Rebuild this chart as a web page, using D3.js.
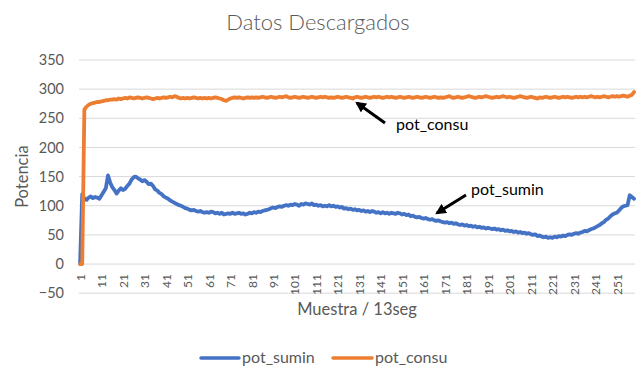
<!DOCTYPE html>
<html>
<head>
<meta charset="utf-8">
<script src="https://cdn.jsdelivr.net/npm/d3@7"></script>
<style>
  html, body { margin: 0; padding: 0; background: #fff; }
  svg { display: block; font-family: Lato, "Open Sans", sans-serif; }
</style>
</head>
<body>
<svg id="chart" width="637" height="368"></svg>
<script>
// Power readings, one sample every 13 s
const potSumin = [
  0, 120, 112, 110, 114, 116, 113, 115, 114, 112,
  118, 124, 130, 152, 140, 132, 127, 121, 126, 130,
  127, 129, 134, 138, 145, 149, 150, 147, 145, 142,
  144, 141, 137, 138, 134, 128, 126, 122, 120, 116,
  114, 112, 109, 107, 105, 103, 101, 100, 98, 96,
  95, 93, 92, 93, 91, 90, 91, 89, 88, 89,
  88, 90, 89, 87, 88, 86, 88, 85, 86, 87,
  86, 88, 86, 87, 88, 86, 87, 85, 86, 88,
  87, 89, 88, 90, 89, 91, 92, 93, 94, 96,
  97, 96, 98, 99, 98, 100, 101, 100, 102, 101,
  103, 102, 100, 103, 102, 104, 103, 102, 104, 101,
  102, 100, 101, 99, 100, 99, 101, 99, 100, 98,
  99, 97, 98, 95, 96, 94, 95, 93, 94, 92,
  93, 91, 92, 90, 91, 89, 91, 90, 88, 89,
  87, 89, 87, 88, 86, 88, 87, 86, 88, 87,
  85, 86, 84, 85, 82, 83, 81, 80, 81, 79,
  78, 79, 77, 76, 77, 75, 74, 75, 73, 72,
  71, 72, 70, 71, 69, 70, 68, 67, 68, 66,
  67, 65, 66, 64, 65, 63, 64, 62, 63, 61,
  62, 61, 60, 61, 59, 60, 58, 59, 57, 58,
  56, 57, 55, 56, 54, 55, 53, 54, 52, 53,
  51, 50, 51, 48, 49, 47, 46, 47, 45, 46,
  45, 47, 46, 48, 47, 49, 48, 50, 51, 50,
  52, 53, 52, 54, 55, 57, 56, 58, 60, 61,
  63, 65, 67, 70, 72, 76, 78, 82, 85, 87,
  88, 92, 96, 99, 100, 101, 118, 115, 112
];

const potConsu = [
  0, 0, 265, 270, 273, 275, 276, 277, 278, 278,
  279, 280, 281, 281, 282, 282, 283, 282, 284, 283,
  284, 285, 284, 286, 285, 284, 285, 286, 285, 284,
  285, 286, 285, 284, 283, 284, 285, 284, 285, 286,
  285, 286, 287, 286, 288, 287, 285, 284, 285, 284,
  285, 284, 285, 286, 285, 284, 285, 284, 285, 284,
  285, 284, 285, 286, 285, 284, 283, 281, 280, 282,
  284, 285, 286, 285, 286, 285, 284, 285, 286, 285,
  286, 285, 286, 285, 286, 287, 286, 285, 286, 287,
  286, 285, 286, 287, 286, 287, 288, 286, 285, 286,
  287, 286, 285, 286, 287, 286, 285, 286, 287, 286,
  285, 286, 287, 286, 287, 286, 285, 286, 285, 286,
  287, 286, 285, 286, 287, 286, 285, 284, 286, 287,
  286, 285, 286, 287, 286, 285, 286, 287, 286, 287,
  286, 285, 286, 287, 286, 287, 286, 285, 286, 287,
  286, 285, 286, 287, 286, 285, 286, 287, 286, 285,
  286, 287, 286, 285, 286, 287, 286, 285, 286, 285,
  286, 287, 288, 286, 285, 286, 287, 286, 285, 286,
  287, 288, 287, 286, 285, 286, 287, 286, 287, 288,
  287, 286, 285, 286, 287, 286, 287, 288, 287, 286,
  287, 286, 285, 286, 287, 288, 287, 286, 285, 286,
  287, 286, 285, 284, 286, 285, 286, 287, 286, 285,
  286, 287, 286, 285, 286, 287, 286, 287, 286, 285,
  286, 287, 286, 287, 286, 287, 286, 287, 288, 287,
  286, 287, 286, 287, 288, 287, 286, 287, 288, 287,
  288, 287, 288, 289, 288, 287, 289, 290, 295
];

const samples = potSumin.map((_, i) => i + 1);
const xTickValues = samples.filter(s => (s - 1) % 10 === 0);
const yTickValues = [-50, 0, 50, 100, 150, 200, 250, 300, 350];

const chartTitle = "Datos Descargados";
const xTitle = "Muestra / 13seg";
const yTitle = "Potencia";
const seriesNames = ["pot_sumin", "pot_consu"];
const seriesColors = ["#4472C4", "#ED7D31"];

const svg = d3.select("#chart");
const plotLeft = 79, plotRight = 635.1, plotTop = 60, plotBottom = 293.2;

const x = d3.scalePoint().domain(samples).range([plotLeft, plotRight]).padding(0.5);
const y = d3.scaleLinear().domain([-50, 350]).range([plotBottom, plotTop]);

// Title
svg.append("text")
  .attr("x", 318).attr("y", 30)
  .attr("text-anchor", "middle")
  .attr("font-size", 22).attr("font-weight", 300)
  .attr("fill", "#595959")
  .text(chartTitle);

// Horizontal gridlines
svg.append("g")
  .selectAll("line")
  .data(yTickValues)
  .join("line")
  .attr("x1", plotLeft).attr("x2", plotRight)
  .attr("y1", d => y(d)).attr("y2", d => y(d))
  .attr("stroke", "#d9d9d9").attr("stroke-width", 1);

// Y axis labels
const yAxis = d3.axisLeft(y).tickValues(yTickValues).tickSize(0).tickPadding(0);
svg.append("g")
  .attr("transform", `translate(${plotLeft - 15},0)`)
  .call(yAxis)
  .call(g => g.select(".domain").remove())
  .call(g => g.selectAll("text")
    .attr("font-family", "Lato, sans-serif")
    .attr("font-size", 14.5).attr("fill", "#595959"));

// X axis labels, hung below the zero line
const xAxis = d3.axisBottom(x).tickValues(xTickValues).tickSize(0).tickPadding(0);
svg.append("g")
  .attr("transform", `translate(0,${y(0)})`)
  .call(xAxis)
  .call(g => g.select(".domain").remove())
  .call(g => g.selectAll("text")
    .attr("font-family", "Lato, sans-serif")
    .attr("font-size", 12).attr("fill", "#595959")
    .attr("text-anchor", "end")
    .attr("transform", "rotate(-90)")
    .attr("x", -10).attr("y", 0).attr("dy", "0.35em"));

// Axis titles
svg.append("text")
  .attr("x", (plotLeft + plotRight) / 2).attr("y", 315)
  .attr("text-anchor", "middle")
  .attr("font-size", 16.5).attr("fill", "#595959")
  .text(xTitle);

svg.append("text")
  .attr("transform", `translate(28,${(plotTop + plotBottom) / 2}) rotate(-90)`)
  .attr("text-anchor", "middle")
  .attr("font-size", 16.5).attr("fill", "#595959")
  .text(yTitle);

// Series lines
const line = d3.line()
  .x((d, i) => x(samples[i]))
  .y(d => y(d));

[potSumin, potConsu].forEach((vals, k) => {
  svg.append("path")
    .datum(vals)
    .attr("d", line)
    .attr("fill", "none")
    .attr("stroke", seriesColors[k])
    .attr("stroke-width", 3.8)
    .attr("stroke-linejoin", "round")
    .attr("stroke-linecap", "round");
});

// Callout arrows
const defs = svg.append("defs");
defs.append("marker")
  .attr("id", "arrowhead")
  .attr("viewBox", "0 0 10 10")
  .attr("refX", 8).attr("refY", 5)
  .attr("markerWidth", 3.6).attr("markerHeight", 3.6)
  .attr("orient", "auto")
  .append("path")
  .attr("d", "M0,0 L10,5 L0,10 Z")
  .attr("fill", "#000");

const callouts = [
  { name: "pot_consu", from: [385, 123], to: [357, 103], tx: 396, ty: 130 },
  { name: "pot_sumin", from: [466, 195], to: [437, 213], tx: 471, ty: 195 }
];
callouts.forEach(c => {
  svg.append("line")
    .attr("x1", c.from[0]).attr("y1", c.from[1])
    .attr("x2", c.to[0]).attr("y2", c.to[1])
    .attr("stroke", "#000").attr("stroke-width", 3)
    .attr("marker-end", "url(#arrowhead)");
  svg.append("text")
    .attr("x", c.tx).attr("y", c.ty)
    .attr("font-size", 16).attr("fill", "#000")
    .text(c.name);
});

// Legend
const legend = [
  { x0: 201, x1: 239, tx: 242 },
  { x0: 333, x1: 372, tx: 375 }
];
legend.forEach((l, k) => {
  svg.append("line")
    .attr("x1", l.x0).attr("x2", l.x1)
    .attr("y1", 358).attr("y2", 358)
    .attr("stroke", seriesColors[k]).attr("stroke-width", 3.5)
    .attr("stroke-linecap", "round");
  svg.append("text")
    .attr("x", l.tx).attr("y", 362.5)
    .attr("font-size", 16).attr("fill", "#595959")
    .text(seriesNames[k]);
});
</script>
</body>
</html>
